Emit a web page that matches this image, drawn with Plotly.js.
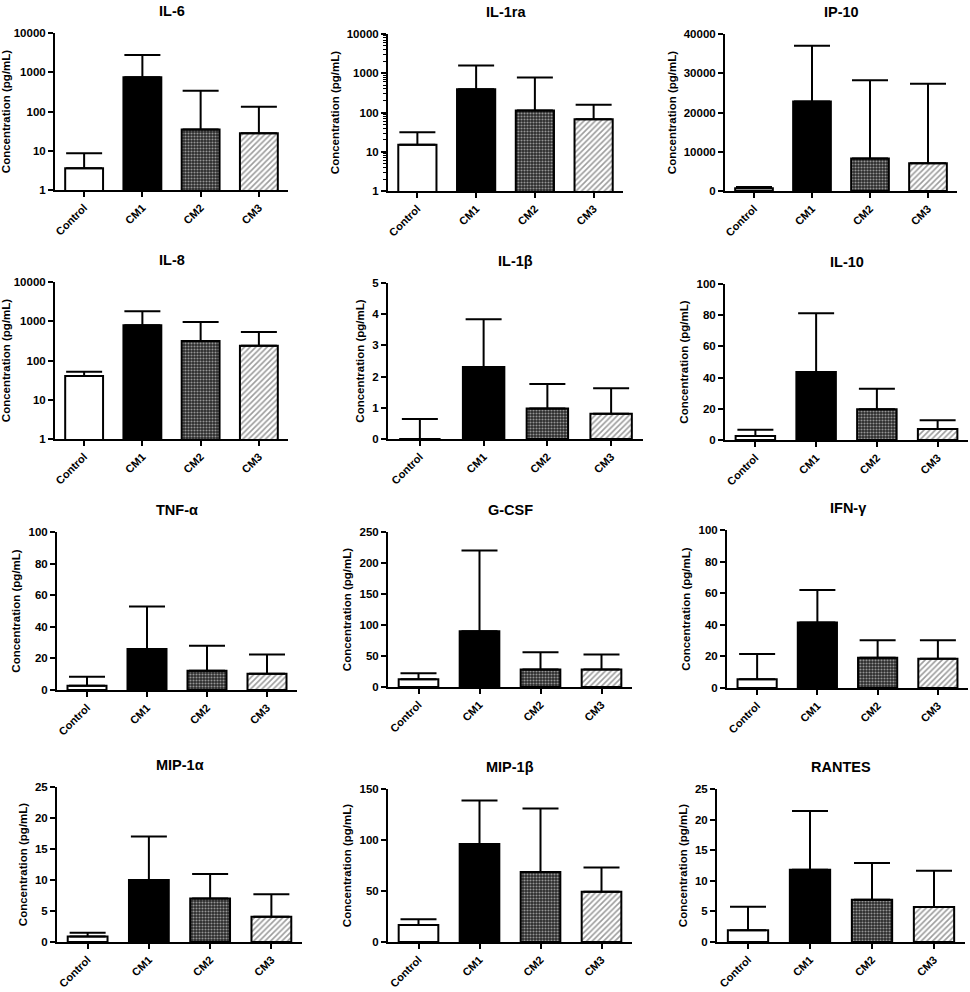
<!DOCTYPE html>
<html>
<head>
<meta charset="utf-8">
<script src="https://cdn.plot.ly/plotly-3.0.1.min.js"></script>
<style>
  html, body { margin: 0; padding: 0; background: #fff; }
  #plot { width: 970px; height: 992px; }
</style>
</head>
<body>
<div id="plot"></div>
<script>
// groups on the x axis
var groups = ['Control', 'CM1', 'CM2', 'CM3'];

// mean and upper SD (pg/mL)
var il6_mean = [3.6, 745, 35, 28];
var il6_sd = [5.0, 2005, 305, 105];

var il1ra_mean = [15, 394, 113, 67.5];
var il1ra_sd = [16.5, 1191, 670, 89.5];

var ip10_mean = [700, 22800, 8250, 7060];
var ip10_sd = [300, 14200, 19950, 20240];

var il8_mean = [40, 791, 316, 236];
var il8_sd = [12, 1005, 646, 299];

var il1b_mean = [0, 2.31, 0.98, 0.81];
var il1b_sd = [0.64, 1.53, 0.78, 0.82];

var il10_mean = [2.6, 43.6, 19.7, 7.05];
var il10_sd = [4.0, 37.6, 13.2, 5.55];

var tnfa_mean = [2.7, 25.9, 12.2, 10.3];
var tnfa_sd = [5.7, 26.9, 15.8, 12.2];

var gcsf_mean = [12.3, 90, 28.4, 28.4];
var gcsf_sd = [9.7, 130, 27.8, 24.1];

var ifng_mean = [5.5, 41.5, 19.2, 18.5];
var ifng_sd = [16, 20.6, 11.1, 11.8];

var mip1a_mean = [0.9, 10.0, 7.0, 4.06];
var mip1a_sd = [0.58, 7.0, 3.97, 3.64];

var mip1b_mean = [16.6, 96, 68.6, 49.2];
var mip1b_sd = [5.7, 42.8, 62.3, 23.9];

var rantes_mean = [1.9, 11.8, 6.9, 5.7];
var rantes_sd = [3.84, 9.6, 6.0, 5.95];

// panel setup: box = [left, right, top, bottom] in px
var panels = [
  {name: 'IL-6',    mean: il6_mean,    sd: il6_sd,    log: true,  box: [55, 288, 33, 190]},
  {name: 'IL-1ra',  mean: il1ra_mean,  sd: il1ra_sd,  log: true,  minor: true, box: [388, 623, 34, 191]},
  {name: 'IP-10',   mean: ip10_mean,   sd: ip10_sd,   max: 40000, dtick: 10000, box: [725, 957, 34, 191]},
  {name: 'IL-8',    mean: il8_mean,    sd: il8_sd,    log: true,  box: [55, 288, 282, 439]},
  {name: 'IL-1β',   mean: il1b_mean,   sd: il1b_sd,   max: 5,   dtick: 1,  box: [388, 643, 283, 439]},
  {name: 'IL-10',   mean: il10_mean,   sd: il10_sd,   max: 100, dtick: 20, box: [725, 968, 284, 440]},
  {name: 'TNF-α',   mean: tnfa_mean,   sd: tnfa_sd,   max: 100, dtick: 20, box: [57, 297, 532, 690]},
  {name: 'G-CSF',   mean: gcsf_mean,   sd: gcsf_sd,   max: 250, dtick: 50, box: [388, 632, 532, 687]},
  {name: 'IFN-γ',   mean: ifng_mean,   sd: ifng_sd,   max: 100, dtick: 20, box: [727, 968, 530, 688]},
  {name: 'MIP-1α',  mean: mip1a_mean,  sd: mip1a_sd,  max: 25,  dtick: 5,  box: [57, 302, 787, 942]},
  {name: 'MIP-1β',  mean: mip1b_mean,  sd: mip1b_sd,  max: 150, dtick: 50, box: [388, 632, 789, 942]},
  {name: 'RANTES',  mean: rantes_mean, sd: rantes_sd, max: 25,  dtick: 5,  box: [717, 965, 789, 942]}
];

// look of each group's bar
var barStyle = [
  {color: '#ffffff', pattern: {shape: ''}},
  {color: '#000000', pattern: {shape: ''}},
  {color: '#ffffff', pattern: {shape: '.', fgcolor: '#ffffff', bgcolor: '#2a2a2a', size: 3, solidity: 0.4, fillmode: 'overlay'}},
  {color: '#ffffff', pattern: {shape: '/', fgcolor: '#3a3a3a', bgcolor: '#ffffff', size: 4, solidity: 0.4, fillmode: 'overlay'}}
];

var W = 970, H = 992;
var fontFam = 'Liberation Sans, Arial, sans-serif';

var data = [];
var layout = {
  width: W,
  height: H,
  margin: {l: 0, r: 0, t: 0, b: 0},
  paper_bgcolor: '#fff',
  plot_bgcolor: '#fff',
  showlegend: false,
  barmode: 'overlay',
  font: {family: fontFam, color: '#000'},
  annotations: []
};

panels.forEach(function (p, i) {
  var n = i + 1;
  var sfx = n === 1 ? '' : String(n);

  groups.forEach(function (g, j) {
    data.push({
      type: 'bar',
      x: [g],
      y: [p.mean[j]],
      xaxis: 'x' + sfx,
      yaxis: 'y' + sfx,
      width: 0.65,
      marker: {
        color: barStyle[j].color,
        line: {color: '#000', width: 2},
        pattern: barStyle[j].pattern
      },
      error_y: {
        type: 'data',
        symmetric: false,
        array: [p.sd[j]],
        arrayminus: [0],
        color: '#000',
        thickness: 2,
        width: 18
      }
    });
  });

  var b = p.box;
  layout['xaxis' + sfx] = {
    domain: [b[0] / W, b[1] / W],
    anchor: 'y' + sfx,
    type: 'category',
    categoryorder: 'array',
    categoryarray: groups,
    range: [-0.5, 3.5],
    showline: true,
    linecolor: '#000',
    linewidth: 2,
    ticks: 'outside',
    ticklen: 5,
    tickwidth: 2,
    tickcolor: '#000',
    tickangle: -45,
    tickfont: {size: 11, weight: 'bold', family: fontFam},
    showgrid: false,
    zeroline: false,
    fixedrange: true
  };

  var yax = {
    domain: [1 - b[3] / H, 1 - b[2] / H],
    anchor: 'x' + sfx,
    showline: true,
    linecolor: '#000',
    linewidth: 2,
    ticks: 'outside',
    ticklen: 5,
    tickwidth: 2,
    tickcolor: '#000',
    tickfont: {size: 11.5, weight: 'bold', family: fontFam},
    showgrid: false,
    zeroline: false,
    fixedrange: true,
    title: {
      text: 'Concentration (pg/mL)',
      font: {size: 11.5, weight: 'bold', family: fontFam},
      standoff: 5
    }
  };
  if (p.log) {
    yax.type = 'log';
    yax.range = [0, 4];
    yax.tickmode = 'array';
    yax.tickvals = [1, 10, 100, 1000, 10000];
    yax.ticktext = ['1', '10', '100', '1000', '10000'];
    if (p.minor) {
      yax.minor = {ticks: 'outside', ticklen: 3, tickwidth: 1, tickcolor: '#000', dtick: 'D1', showgrid: false};
    }
  } else {
    yax.range = [0, p.max];
    yax.dtick = p.dtick;
    yax.tick0 = 0;
    yax.tickformat = 'd';
  }
  layout['yaxis' + sfx] = yax;

  layout.annotations.push({
    text: p.name,
    xref: 'paper',
    yref: 'paper',
    x: (b[0] + b[1]) / 2 / W,
    y: 1 - (b[2] - 22) / H,
    xanchor: 'center',
    yanchor: 'middle',
    showarrow: false,
    font: {size: 14.5, weight: 'bold', family: fontFam}
  });
});

Plotly.newPlot('plot', data, layout, {displayModeBar: false, staticPlot: true});
</script>
</body>
</html>
